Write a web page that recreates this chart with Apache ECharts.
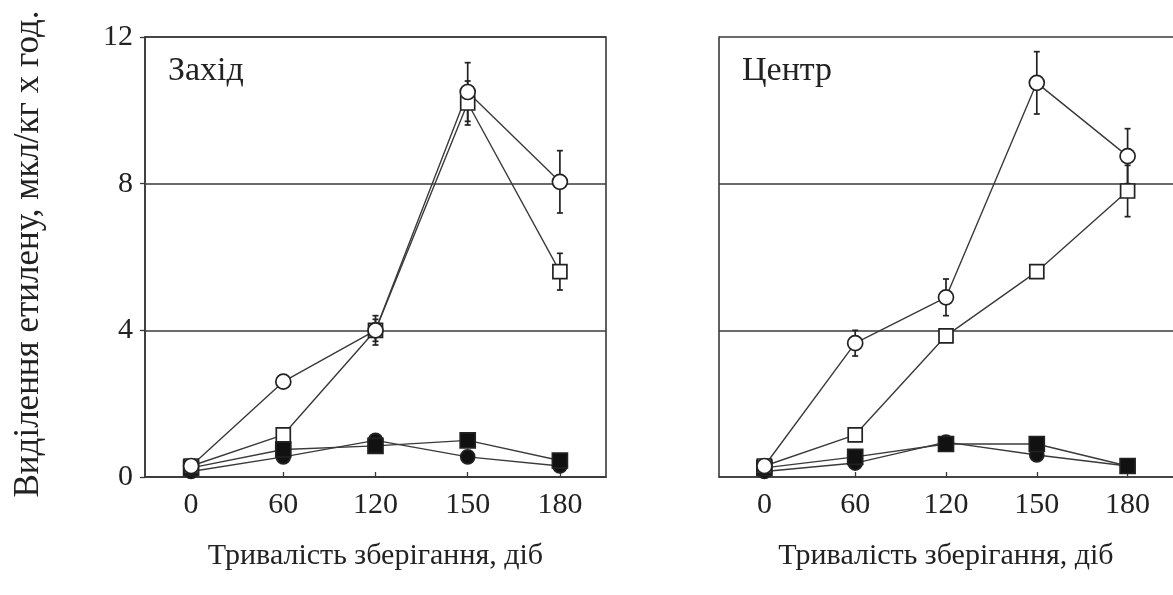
<!DOCTYPE html>
<html>
<head>
<meta charset="utf-8">
<script src="https://cdn.jsdelivr.net/npm/echarts@6/dist/echarts.min.js"></script>
<style>html,body{margin:0;padding:0;background:#fff;overflow:hidden;}#c{width:1173px;height:595px;}</style>
</head>
<body>
<div id="c"></div>
<script>
var categories = ['0', '60', '120', '150', '180'];
var yTicks = [0, 4, 8, 12];

var westOpenCircle   = [0.3, 2.6, 4.0, 10.5, 8.05];
var westOpenSquare   = [0.3, 1.15, 4.0, 10.2, 5.6];
var westFilledCircle = [0.15, 0.55, 1.0, 0.55, 0.3];
var westFilledSquare = [0.25, 0.75, 0.85, 1.0, 0.45];
var westOpenCircleErr = [0, 0.1, 0.4, 0.8, 0.85];
var westOpenSquareErr = [0, 0, 0.3, 0.6, 0.5];

var centerOpenCircle   = [0.3, 3.65, 4.9, 10.75, 8.75];
var centerOpenSquare   = [0.3, 1.15, 3.85, 5.6, 7.8];
var centerFilledCircle = [0.15, 0.38, 0.95, 0.6, 0.3];
var centerFilledSquare = [0.25, 0.55, 0.9, 0.9, 0.3];
var centerOpenCircleErr = [0, 0.35, 0.5, 0.85, 0.75];
var centerOpenSquareErr = [0, 0, 0, 0, 0.7];

var panelTitles = ['Захід', 'Центр'];
var xTitle = 'Тривалість зберігання, діб';
var yTitle = 'Виділення етилену, мкл/кг х год.';

var FONT = "'Liberation Serif', 'DejaVu Serif', serif";
var INK = '#222';
var LINE = '#3a3a3a';

function errData(vals, errs) {
  var out = [];
  for (var i = 0; i < vals.length; i++) {
    if (errs[i] > 0) out.push([i, vals[i] - errs[i], vals[i] + errs[i]]);
  }
  return out;
}

function errSeries(idx, vals, errs) {
  return {
    type: 'custom', xAxisIndex: idx, yAxisIndex: idx, z: 1,
    data: errData(vals, errs),
    renderItem: function (params, api) {
      var x = api.value(0), lo = api.value(1), hi = api.value(2);
      var p1 = api.coord([x, lo]), p2 = api.coord([x, hi]);
      var c = 3;
      var st = { stroke: INK, lineWidth: 1.7 };
      return { type: 'group', children: [
        { type: 'line', shape: { x1: p1[0], y1: p1[1], x2: p2[0], y2: p2[1] }, style: st },
        { type: 'line', shape: { x1: p1[0] - c, y1: p1[1], x2: p1[0] + c, y2: p1[1] }, style: st },
        { type: 'line', shape: { x1: p2[0] - c, y1: p2[1], x2: p2[0] + c, y2: p2[1] }, style: st }
      ]};
    }
  };
}

function lineSeries(idx, vals, symbol, filled, size) {
  return {
    type: 'line', xAxisIndex: idx, yAxisIndex: idx, data: vals, z: 3,
    symbol: symbol, symbolSize: size, showAllSymbol: true,
    lineStyle: { color: LINE, width: 1.4 },
    itemStyle: { color: filled ? '#111' : '#fff', borderColor: '#222', borderWidth: 1.7 },
    emphasis: { disabled: true }, animation: false
  };
}

function xAxisCfg(idx) {
  return {
    gridIndex: idx, type: 'category', data: categories, boundaryGap: true,
    axisLine: { show: true, lineStyle: { color: LINE, width: 1.6 } },
    axisTick: { show: true, inside: true, alignWithLabel: true, length: 5, lineStyle: { color: LINE, width: 1.3 } },
    axisLabel: { fontFamily: FONT, fontSize: 30, color: INK, margin: 13 },
    splitLine: { show: false },
    name: xTitle, nameLocation: 'middle', nameGap: 64,
    nameTextStyle: { fontFamily: FONT, fontSize: 30, color: INK }
  };
}

function yAxisCfg(idx, showLabels) {
  return {
    gridIndex: idx, type: 'value', min: yTicks[0], max: yTicks[yTicks.length - 1], interval: 4,
    axisLine: { show: true, lineStyle: { color: LINE, width: 1.6 } },
    axisTick: { show: showLabels, inside: false, length: 5, lineStyle: { color: LINE, width: 1.3 } },
    axisLabel: { show: showLabels, fontFamily: FONT, fontSize: 30, color: INK, margin: 12 },
    splitLine: { show: true, lineStyle: { color: LINE, width: 1.7 } }
  };
}

var chart = echarts.init(document.getElementById('c'), null, { renderer: 'canvas' });
chart.setOption({
  animation: false,
  backgroundColor: '#fff',
  title: [
    { text: panelTitles[0], left: 163, top: 49, textStyle: { fontFamily: FONT, fontSize: 34, fontWeight: 'normal', color: INK } },
    { text: panelTitles[1], left: 737, top: 49, textStyle: { fontFamily: FONT, fontSize: 34, fontWeight: 'normal', color: INK } }
  ],
  grid: [
    { left: 145, top: 37, width: 461, height: 440, show: true, borderColor: LINE, borderWidth: 1.6, backgroundColor: 'transparent' },
    { left: 719, top: 37, width: 461, height: 440, show: false }
  ],
  xAxis: [xAxisCfg(0), xAxisCfg(1)],
  yAxis: [yAxisCfg(0, true), yAxisCfg(1, false)],
  graphic: [{
    type: 'text', x: 29, y: 254, rotation: Math.PI / 2,
    style: { text: yTitle, font: '35px ' + FONT, fill: INK, textAlign: 'center', textVerticalAlign: 'middle' }
  }],
  series: [
    errSeries(0, westOpenCircle, westOpenCircleErr),
    errSeries(0, westOpenSquare, westOpenSquareErr),
    lineSeries(0, westFilledCircle, 'circle', true, 14),
    lineSeries(0, westFilledSquare, 'rect', true, 15),
    lineSeries(0, westOpenSquare, 'rect', false, 14),
    lineSeries(0, westOpenCircle, 'circle', false, 15),
    errSeries(1, centerOpenCircle, centerOpenCircleErr),
    errSeries(1, centerOpenSquare, centerOpenSquareErr),
    lineSeries(1, centerFilledCircle, 'circle', true, 14),
    lineSeries(1, centerFilledSquare, 'rect', true, 15),
    lineSeries(1, centerOpenSquare, 'rect', false, 14),
    lineSeries(1, centerOpenCircle, 'circle', false, 15)
  ]
});
</script>
</body>
</html>
